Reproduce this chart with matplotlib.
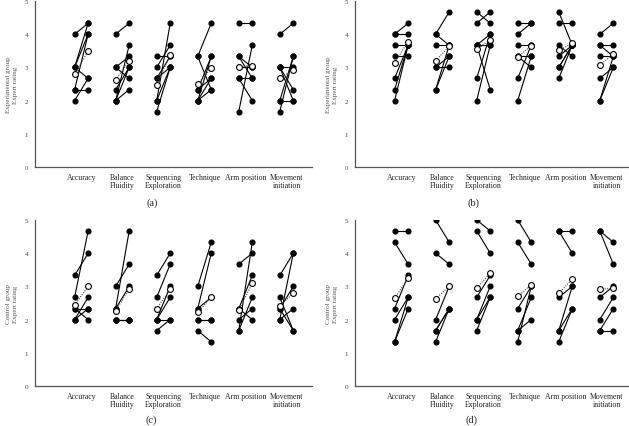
import matplotlib
matplotlib.use("Agg")
import matplotlib.pyplot as plt

plt.rcParams['font.family'] = ['Liberation Serif', 'DejaVu Serif']

categories = ["Accuracy", "Balance\nFluidity", "Sequencing\nExploration",
              "Technique", "Arm position", "Movement\ninitiation"]

# (a) experimental group, one list per category, one value per participant
a_pre = [[4, 3, 3, 3, 2.33, 2.33, 2],
         [4, 3, 3, 2.33, 2, 2, 2],
         [3.33, 3, 2.67, 2.67, 2, 2, 1.67],
         [3.33, 3.33, 2.33, 2.33, 2, 2, 2],
         [4.33, 3.33, 3.33, 3, 2.67, 2.67, 1.67],
         [4, 3, 3, 3, 2, 2, 1.67]]
a_post = [[4.33, 4.33, 4, 2.67, 4, 2.33, 2.67],
          [4.33, 3.33, 2.67, 3, 3.67, 3, 2.33],
          [3.33, 3.67, 3, 3.33, 4.33, 3, 3],
          [4.33, 2.33, 2.67, 3.33, 3.33, 2.67, 2.33],
          [4.33, 3, 2.67, 3, 2, 2.67, 3.67],
          [4.33, 3, 2.33, 2, 3.33, 2, 3.33]]
a_mean_pre = [2.8, 2.63, 2.48, 2.5, 3.02, 2.69]
a_mean_post = [3.48, 3.2, 3.38, 2.97, 3.05, 2.91]

# (b) experimental group
b_pre = [[4, 4, 3.67, 3.33, 2.67, 2.33, 2],
         [4, 4, 3.67, 3, 3, 2.33, 2.33],
         [4.67, 4.33, 3.67, 3.67, 3.67, 2.67, 2],
         [4.33, 4, 3.67, 3.33, 3.33, 2.67, 2],
         [4.67, 4.33, 3.67, 3.33, 3, 3, 2.67],
         [4, 3.67, 3.67, 3.33, 2.67, 2, 2]]
b_post = [[4.33, 4, 3.67, 3.33, 3.67, 3.67, 3.67],
          [4.67, 3.67, 3.67, 3.33, 3, 3.67, 3.33],
          [4.33, 4.67, 4, 3.67, 2.33, 4, 3.67],
          [4.33, 4.33, 3.67, 3.33, 3, 3.67, 3.33],
          [3.67, 4.33, 3.33, 3.67, 3.67, 3.67, 3.67],
          [4.33, 3.67, 3.33, 3.33, 3, 3.33, 3]]
b_mean_pre = [3.14, 3.2, 3.54, 3.31, 3.51, 3.06]
b_mean_post = [3.78, 3.64, 3.83, 3.65, 3.73, 3.41]

# (c) control group
c_pre = [[3.33, 2.67, 2.33, 2.33, 2, 2],
         [3, 2.33, 2.33, 2, 2, 2],
         [3.33, 2.67, 2, 2, 2, 1.67],
         [3, 2.33, 2.33, 2, 2, 1.67],
         [3.67, 2.33, 2.33, 2, 1.67, 1.67],
         [3.33, 2.67, 2.33, 2.33, 2, 2]]
c_post = [[4, 4.67, 2.33, 2, 2.67, 2.33],
          [3.67, 4.67, 3, 2, 2, 2],
          [4, 3.67, 3, 2.67, 2, 2],
          [4.33, 4, 2.67, 2, 2, 1.33],
          [4, 3.33, 2, 2.33, 4.33, 2.67],
          [4, 1.67, 3, 1.67, 4, 2.33]]
c_mean_pre = [2.44, 2.27, 2.32, 2.22, 2.28, 2.42]
c_mean_post = [3.0, 2.92, 2.92, 2.67, 3.1, 2.79]

# (d) control group
d_pre = [[4.67, 4.33, 2.33, 2, 1.33, 1.33],
         [5, 4, 2, 1.67, 1.67, 1.33],
         [5, 4.67, 2.67, 2, 2, 1.67],
         [5, 4.33, 2.33, 1.67, 1.67, 1.33],
         [4.67, 4.67, 2.67, 1.67, 1.67, 1.33],
         [4.67, 4.67, 2.67, 2, 1.67, 1.67]]
d_post = [[4.67, 3.67, 3.33, 2.67, 2.67, 2.33],
          [4.33, 3.67, 3, 2.33, 2.33, 2.33],
          [4.67, 4, 3.33, 3, 2.67, 2.67],
          [4.33, 3.67, 3, 2.67, 2, 3],
          [4.67, 4, 3, 3, 2.33, 2.33],
          [4.33, 3.67, 3, 2.67, 2.33, 1.67]]
d_mean_pre = [2.64, 2.63, 2.96, 2.7, 2.79, 2.92]
d_mean_post = [3.24, 3.0, 3.39, 3.05, 3.22, 2.94]

W, H = 629, 427
OFF = 0.165  # half gap between pre and post inside a category


def draw_panel(ax, pre, post, mean_pre, mean_post, ylabel):
    for i in range(len(categories)):
        for p, q in zip(pre[i], post[i]):
            ax.plot([i - OFF, i + OFF], [p, q], color='black', lw=0.8,
                    marker='o', ms=3.4, mfc='black', mec='black', zorder=2)
        ax.plot([i - OFF, i + OFF], [mean_pre[i], mean_post[i]], color='#444444',
                lw=0.8, ls=(0, (1, 1.2)), marker='o', ms=4.2, mfc='white',
                mec='black', mew=0.8, zorder=3)
    ax.set_xlim(-1.13, 5.62)
    ax.set_ylim(0, 5)
    ax.set_yticks(range(6))
    ax.set_xticks(range(len(categories)))
    ax.set_xticklabels(categories, fontsize=5.6, linespacing=1.1, color='#222222')
    ax.tick_params(axis='x', length=0, pad=4)
    ax.tick_params(axis='y', length=0, pad=5, labelsize=5, labelcolor='#444444')
    for s in ['top', 'right']:
        ax.spines[s].set_visible(False)
    for s in ['left', 'bottom']:
        ax.spines[s].set_color('#555555')
        ax.spines[s].set_linewidth(0.9)
    ax.set_ylabel(ylabel, fontsize=5.1, color='#555555', linespacing=1.35)
    ax.yaxis.set_label_coords(-0.063, 0.5)
    ax.patch.set_visible(False)


fig = plt.figure(figsize=(W / 100, H / 100), dpi=100)
panels = [
    (35, 2, a_pre, a_post, a_mean_pre, a_mean_post, "Experimental group\nExpert rating", "(a)", 152, 203),
    (355, 2, b_pre, b_post, b_mean_pre, b_mean_post, "Experimental group\nExpert rating", "(b)", 473, 203),
    (35, 221, c_pre, c_post, c_mean_pre, c_mean_post, "Control group\nExpert rating", "(c)", 151, 420),
    (355, 221, d_pre, d_post, d_mean_pre, d_mean_post, "Control group\nExpert rating", "(d)", 472, 420),
]
for left, top, pre, post, mpre, mpost, ylab, tag, tx, ty in panels:
    ax = fig.add_axes([left / W, 1 - (top + 166) / H, 277 / W, 166 / H])
    draw_panel(ax, pre, post, mpre, mpost, ylab)
    fig.text(tx / W, 1 - ty / H, tag, ha='center', va='center', fontsize=7.5, color='#222222')

fig.savefig("out.png", dpi=100)
